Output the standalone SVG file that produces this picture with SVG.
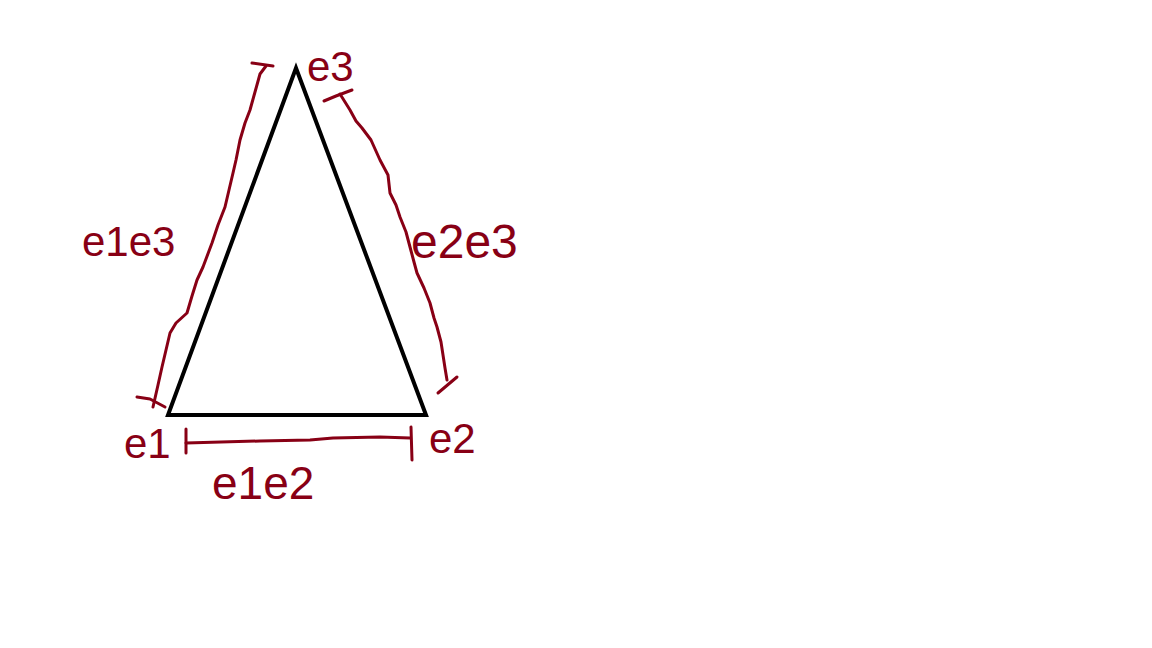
<svg xmlns="http://www.w3.org/2000/svg" width="1152" height="648" viewBox="0 0 1152 648">
<style>
.tri{fill:none;stroke:#000;stroke-width:4;stroke-linejoin:miter}
.ink{fill:none;stroke:#880015;stroke-width:3;stroke-linecap:round;stroke-linejoin:round}
.lbl{fill:#880015;font-family:"Liberation Sans",Arial,sans-serif;font-size:42px}
</style>
<rect width="1152" height="648" fill="#fff"/>
<g id="triangle">
<polygon class="tri" points="168,415 426,415 296,68"/>
</g>
<g id="connectors">
<g id="bracket-e1e3">
<path class="ink" d="M252,63 L273,66"/>
<path class="ink" d="M266,66 L260,74 L250,110 L245,123 L240,140 L236,160 L233,173 L229,190 L225,207 L218,225 L212,243 L203,267 L197,280 L192,296 L187,313 L176,323 L170,333 L166,350 L162,367 L158,385 L153,407"/>
<path class="ink" d="M137,397 L150,399 L165,407"/>
</g>
<g id="bracket-e2e3">
<path class="ink" d="M324,101 L336,96 L352,90"/>
<path class="ink" d="M340,94 L350,110 L356,121 L362,128 L371,140 L380,160 L388,175 L390,193 L396,205 L400,217 L406,232 L410,247 L414,262 L417,273 L424,288 L430,303 L434,318 L437,327 L441,342 L443,355 L445,368 L447,380"/>
<path class="ink" d="M438,393 L457,377"/>
</g>
<g id="bracket-e1e2">
<path class="ink" d="M186,429 L186,453"/>
<path class="ink" d="M186,443 L260,441 L310,440 L333,438 L380,437 L410,438"/>
<path class="ink" d="M411,427 L412,460"/>
</g>
</g>
<g id="node-e1"><text class="lbl" x="124" y="458">e1</text></g>
<g id="node-e2"><text class="lbl" x="429" y="453">e2</text></g>
<g id="node-e3"><text class="lbl" x="307" y="81">e3</text></g>
<g id="label-e1e3"><text class="lbl" x="82" y="256">e1e3</text></g>
<g id="label-e2e3"><text class="lbl" x="411" y="258" style="font-size:48px">e2e3</text></g>
<g id="label-e1e2"><text class="lbl" x="212" y="499" style="font-size:46px">e1e2</text></g>
</svg>
